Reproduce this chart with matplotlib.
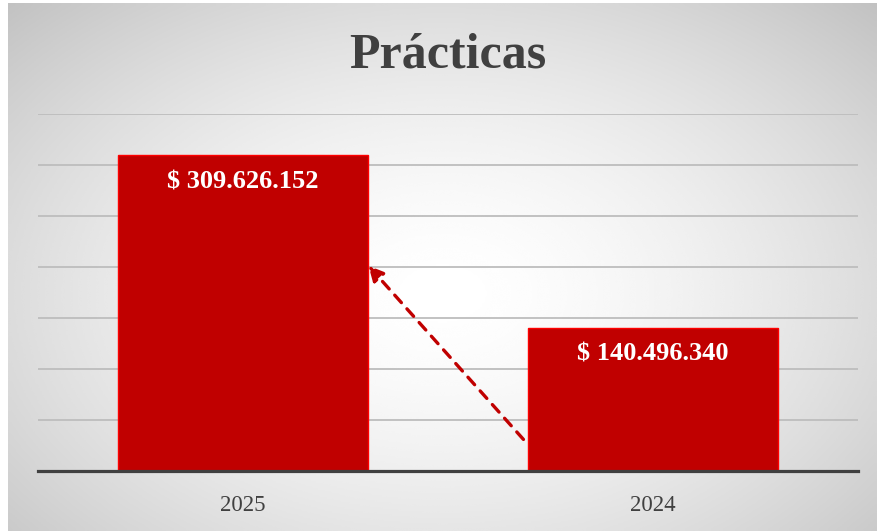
import numpy as np
import matplotlib.pyplot as plt

years = ['2025', '2024']
totals = [309626152, 140496340]
labels = ['$ 309.626.152', '$ 140.496.340']

W, H = 877, 531
fig = plt.figure(figsize=(W / 100, H / 100), dpi=100)
fig.patch.set_facecolor('white')

# radial gradient backdrop
bg = fig.add_axes([8 / W, 0, 1 - 8 / W, 1 - 3 / H])
bg.set_axis_off()
yy, xx = np.mgrid[0:1:300j, 0:1:500j]
r = np.sqrt(((xx - 0.5) / 0.5) ** 2 + ((yy - 0.55) / 0.55) ** 2) / np.sqrt(2)
shade = 1 - 0.24 * np.clip(r, 0, 1) ** 1.6
bg.imshow(shade, cmap='gray', vmin=0, vmax=1, aspect='auto', extent=[0, 1, 0, 1], interpolation='bicubic')

ax = fig.add_axes([38 / W, 1 - 471 / H, 820 / W, (471 - 114) / H])
ax.set_facecolor('none')
x = np.arange(len(years))
w = 0.612
bars = ax.bar(x, totals, width=w, color='#c00000', edgecolor='#ff0000', linewidth=1, zorder=3)

ax.set_xlim(-0.5, 1.5)
ax.set_ylim(0, 350e6)
ax.set_yticks(np.arange(50e6, 351e6, 50e6))
ax.yaxis.grid(True, color='#bdbdbd', linewidth=1.3, zorder=0)
ax.tick_params(axis='y', length=0, labelleft=False)
ax.set_xticks(x, years)
ax.tick_params(axis='x', length=0, pad=17, labelsize=16.5, labelcolor='#404040')
for t in ax.get_xticklabels():
    t.set_family('Liberation Serif')
for s in ['top', 'left', 'right']:
    ax.spines[s].set_visible(False)
ax.spines['bottom'].set_color('#404040')
ax.spines['bottom'].set_linewidth(2.3)
ax.spines['bottom'].set_zorder(4)

for b, lab in zip(bars, labels):
    ax.annotate(lab, (b.get_x() + b.get_width() / 2, b.get_height()),
                xytext=(0, -19), textcoords='offset points', ha='center', va='center',
                color='white', fontsize=19, fontweight='bold', family='Liberation Serif', zorder=5)

# dashed arrow from the 2024 bar to the 2025 bar
ax.annotate('', xy=(x[0] + w / 2, 0.65 * totals[0]), xytext=(x[1] - w / 2 - 0.01, 0.1 * totals[0]),
            arrowprops=dict(arrowstyle='-|>', color='#c00000', lw=2.4, linestyle=(0, (3, 2.5)),
                            mutation_scale=22, shrinkA=0, shrinkB=0), zorder=6)

fig.text(448 / W, 1 - 56 / H, 'Prácticas', ha='center', va='center', fontsize=36,
         fontweight='bold', color='#404040', family='Liberation Serif')

fig.savefig('out.png', dpi=100)
